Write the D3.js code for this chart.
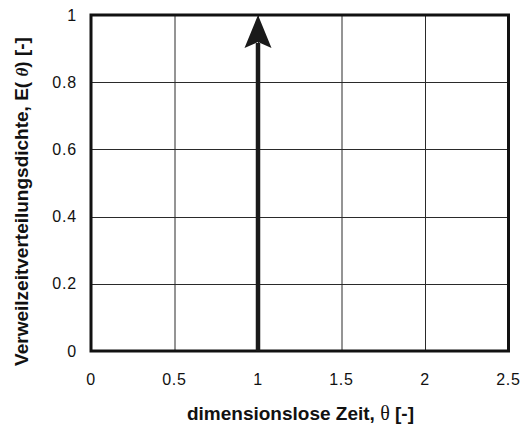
<!DOCTYPE html>
<html><head><meta charset="utf-8">
<script src="https://cdn.jsdelivr.net/npm/d3@7"></script>
<style>body{margin:0;background:#fff}svg{display:block}text{font-family:"Liberation Sans",Arial,sans-serif}</style>
</head><body>
<script>
const xTicks = [0, 0.5, 1, 1.5, 2, 2.5];
const yTicks = [0, 0.2, 0.4, 0.6, 0.8, 1];
const xTickLabels = ["0", "0.5", "1", "1.5", "2", "2.5"];
const yTickLabels = ["0", "0.2", "0.4", "0.6", "0.8", "1"];
const arrowTheta = [1];
const arrowE = [1];

const W = 523, H = 428;
const svg = d3.select("body").append("svg").attr("width", W).attr("height", H);
const x = d3.scaleLinear().domain([0, 2.5]).range([91, 508.5]);
const y = d3.scaleLinear().domain([0, 1]).range([351, 15]);

// grid
svg.append("g").selectAll("line.v").data(xTicks.slice(1, -1)).join("line")
  .attr("x1", d => x(d) + 0.5).attr("x2", d => x(d) + 0.5)
  .attr("y1", y(1)).attr("y2", y(0)).attr("stroke", "#2a2a2a").attr("stroke-width", 1);
svg.append("g").selectAll("line.h").data(yTicks.slice(1, -1)).join("line")
  .attr("y1", d => Math.round(y(d)) + 0.5).attr("y2", d => Math.round(y(d)) + 0.5)
  .attr("x1", x(0)).attr("x2", x(2.5)).attr("stroke", "#2a2a2a").attr("stroke-width", 1);

// frame
svg.append("rect").attr("x", x(0)).attr("y", y(1)).attr("width", x(2.5) - x(0)).attr("height", y(0) - y(1))
  .attr("fill", "none").attr("stroke", "#111").attr("stroke-width", 3);

// arrow
svg.selectAll("g.arrow").data(arrowTheta).join("g").each(function(d, i) {
  const g = d3.select(this);
  const xs = x(d);
  g.append("line").attr("x1", xs).attr("x2", xs).attr("y1", y(0)).attr("y2", y(arrowE[i]) + 28)
    .attr("stroke", "#1a1a1a").attr("stroke-width", 4.5);
  g.append("path")
    .attr("d", `M${xs},${y(arrowE[i])} L${xs + 13.5},${y(arrowE[i]) + 33} L${xs},${y(arrowE[i]) + 27} L${xs - 13.5},${y(arrowE[i]) + 33} Z`)
    .attr("fill", "#1a1a1a");
});

// tick labels
svg.append("g").selectAll("text").data(xTicks).join("text")
  .attr("x", d => x(d)).attr("y", 385).attr("text-anchor", "middle")
  .attr("font-size", 16).attr("letter-spacing", 0.8).attr("fill", "#111").text((d, i) => xTickLabels[i]);
svg.append("g").selectAll("text").data(yTicks).join("text")
  .attr("x", 77).attr("y", d => y(d) + 5.5).attr("text-anchor", "end")
  .attr("font-size", 16).attr("letter-spacing", 0.8).attr("fill", "#111").text((d, i) => yTickLabels[i]);

// axis titles
const xt = svg.append("text").attr("x", 300.5).attr("y", 420).attr("text-anchor", "middle")
  .attr("font-size", 19).attr("font-weight", "bold").attr("fill", "#111");
xt.append("tspan").text("dimensionslose Zeit, ");
xt.append("tspan").attr("font-family", "Liberation Serif, serif").attr("font-weight", "normal").attr("font-size", 20).text("θ");
xt.append("tspan").text(" [-]");

const yt = svg.append("text").attr("transform", "translate(28,201.5) rotate(-90)").attr("text-anchor", "middle")
  .attr("font-size", 19).attr("font-weight", "bold").attr("fill", "#111");
yt.append("tspan").text("Verweilzeitverteilungsdichte, E( ");
yt.append("tspan").attr("font-family", "Liberation Serif, serif").attr("font-style", "italic").attr("font-size", 17).text("θ");
yt.append("tspan").text(") [-]");
</script>
</body></html>
